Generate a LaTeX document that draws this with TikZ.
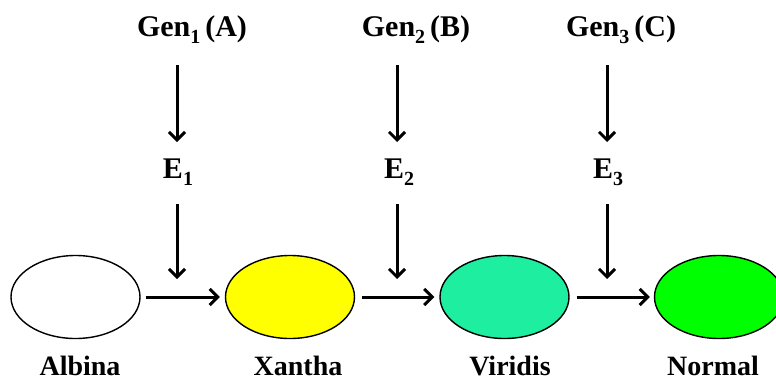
\documentclass[tikz,border=0pt]{standalone}
\usepackage{fontspec}
\setmainfont{Liberation Serif}
\usetikzlibrary{arrows.meta,shapes.geometric}
\definecolor{xanthacol}{RGB}{255,255,0}
\definecolor{viridiscol}{RGB}{30,238,160}
\definecolor{normalcol}{RGB}{0,255,0}
\newcommand\lowsub[1]{\raisebox{-0.5ex}{\fontsize{20}{22}\selectfont #1}}
\tikzset{
  phenotype/.style={ellipse, draw=black, line width=1.4pt, minimum width=129pt, minimum height=83pt, inner sep=0pt},
  toplabel/.style={font=\bfseries\fontsize{30}{34}\selectfont, inner sep=0pt},
  enzlabel/.style={font=\bfseries\fontsize{30}{34}\selectfont, inner sep=0pt},
  namelabel/.style={font=\bfseries\fontsize{28}{32}\selectfont, inner sep=0pt},
  flow/.style={line width=3pt, -{Straight Barb[length=8pt,width=16pt,line width=3pt]}}
}
\begin{document}
\begin{tikzpicture}[x=1pt,y=-1pt]
\useasboundingbox (0,0) rectangle (776,383);
\clip (0,0) rectangle (776,383);
% phenotypes
\node[phenotype, fill=white]       (alb) at (75.5,297) {};
\node[phenotype, fill=xanthacol]   (xan) at (290,297) {};
\node[phenotype, fill=viridiscol]  (vir) at (504.5,297) {};
\node[phenotype, fill=normalcol]   (nor) at (719,297) {};
\node[namelabel] (albt) at (80,366) {Albina};
\node[namelabel] (xant) at (298,366) {Xantha};
\node[namelabel] (virt) at (510,366) {Viridis};
\node[namelabel] (nort) at (713,366) {Normal};
% genes and enzymes
\node[toplabel] (g1) at (192,30) {Gen\lowsub{1}\,(A)};
\node[toplabel] (g2) at (416,30) {Gen\lowsub{2}\,(B)};
\node[toplabel] (g3) at (621,30) {Gen\lowsub{3}\,(C)};
\node[enzlabel] (e1) at (178,172) {E\lowsub{1}};
\node[enzlabel] (e2) at (399,172) {E\lowsub{2}};
\node[enzlabel] (e3) at (608,172) {E\lowsub{3}};
% arrow end points of each column
\coordinate (a1) at (177,65);  \coordinate (b1) at (177,142);
\coordinate (c1) at (177,204); \coordinate (j1) at (177,279);
\coordinate (a2) at (397,65);  \coordinate (b2) at (397,142);
\coordinate (c2) at (397,204); \coordinate (j2) at (397,279);
\coordinate (a3) at (607,65);  \coordinate (b3) at (607,142);
\coordinate (c3) at (607,204); \coordinate (j3) at (607,279);
% gene -> enzyme
\draw[flow] (a1) -- (b1);
\draw[flow] (a2) -- (b2);
\draw[flow] (a3) -- (b3);
% enzyme -> pathway
\draw[flow] (c1) -- (j1);
\draw[flow] (c2) -- (j2);
\draw[flow] (c3) -- (j3);
% pathway steps
\draw[flow] ([xshift=5pt]alb.east) -- ([xshift=-5pt]xan.west);
\draw[flow] ([xshift=7pt]xan.east) -- ([xshift=-5pt]vir.west);
\draw[flow] ([xshift=7pt]vir.east) -- ([xshift=-4pt]nor.west);
\end{tikzpicture}
\end{document}
